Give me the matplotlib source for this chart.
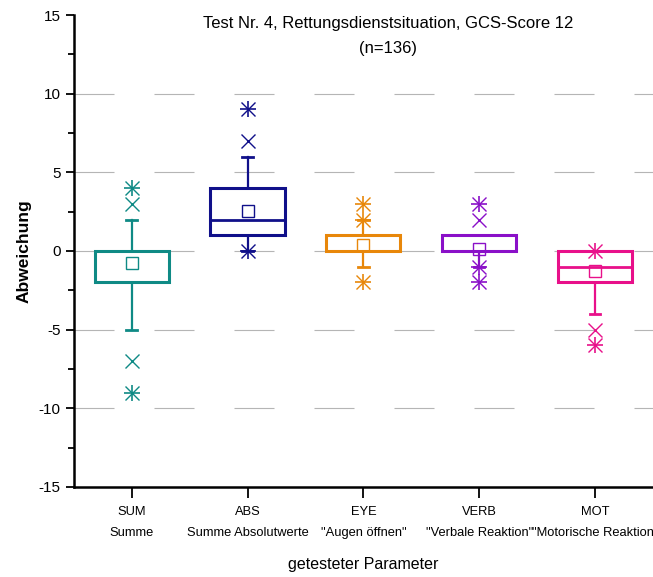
import matplotlib
matplotlib.use("Agg")
import matplotlib.pyplot as plt
from matplotlib.ticker import MultipleLocator

plt.rcParams['font.family'] = ['Liberation Sans Narrow', 'Liberation Sans', 'DejaVu Sans']
plt.rcParams['axes.unicode_minus'] = False

# ---- data ----
categories = ["SUM", "ABS", "EYE", "VERB", "MOT"]
sublabels = ["Summe", "Summe Absolutwerte", "\"Augen öffnen\"", "\"Verbale Reaktion\"", "\"Motorische Reaktion\""]
q1 = [-2, 1, 0, 0, -2]
q3 = [0, 4, 1, 1, 0]
median = [0, 2, 0, 0, -1]
mean = [-0.75, 2.55, 0.35, 0.15, -1.25]
whisker_low = [-5, 0, -1, -1, -4]
whisker_high = [2, 6, 2, 1, 0]
cross_points = [[3, -7], [7], [], [2], [-5]]
star_points = [[4, -9], [9, 0], [3, 2, -2], [3, -1, -2], [0, -6]]
colors = ["#0f8a85", "#10108a", "#e8870a", "#8a10c8", "#e8108a"]

title = "Test Nr. 4, Rettungsdienstsituation, GCS-Score 12\n(n=136)"

fig = plt.figure(figsize=(6.53, 5.77), dpi=100)
ax = fig.add_axes([0.113, 0.156, 0.887, 0.818])

pos = list(range(1, len(categories) + 1))
ax.set_xlim(0.5, 5.5)
ax.set_ylim(-15, 15)

# segmented grid lines
for gy in [10, 5, 0, -5, -10]:
    ax.axhline(gy, color="#b5b5b5", lw=0.8, ls=(0, (36, 36)), zorder=0)

bw = 0.64
cap = 0.045
for i, p in enumerate(pos):
    c = colors[i]
    # whiskers
    ax.plot([p, p], [q3[i], whisker_high[i]], color=c, lw=1.6, zorder=2)
    ax.plot([p, p], [q1[i], whisker_low[i]], color=c, lw=1.6, zorder=2)
    if whisker_high[i] != q3[i]:
        ax.plot([p - cap, p + cap], [whisker_high[i]] * 2, color=c, lw=2, zorder=2)
    if whisker_low[i] != q1[i]:
        ax.plot([p - cap, p + cap], [whisker_low[i]] * 2, color=c, lw=2, zorder=2)
    # box
    ax.add_patch(plt.Rectangle((p - bw / 2, q1[i]), bw, q3[i] - q1[i],
                               facecolor="white", edgecolor=c, lw=2.2, zorder=3))
    ax.plot([p - bw / 2, p + bw / 2], [median[i]] * 2, color=c, lw=2, zorder=4)
    # mean
    ax.plot([p], [mean[i]], marker="s", ms=8, mfc="none", mec=c, mew=1.0, zorder=5)
    # percentiles and extremes
    for v in cross_points[i]:
        ax.plot([p], [v], marker="x", ms=10, mec=c, mew=1.0, zorder=5)
    for v in star_points[i]:
        ax.plot([p], [v], marker="x", ms=10, mec=c, mew=1.0, zorder=5)
        ax.plot([p], [v], marker="+", ms=12, mec=c, mew=1.2, zorder=5)

ax.set_xticks(pos)
ax.set_xticklabels([f"{a}\n{b}" for a, b in zip(categories, sublabels)],
                   fontsize=9.3, linespacing=1.95)
ax.yaxis.set_major_locator(MultipleLocator(5))
ax.yaxis.set_minor_locator(MultipleLocator(2.5))
ax.tick_params(axis="y", which="major", length=6, width=1.3, labelsize=11, direction="out")
ax.tick_params(axis="y", which="minor", length=4, width=1.3, direction="out")
ax.tick_params(axis="x", which="major", length=8, width=1.3, direction="out", pad=6)

for s in ["top", "right"]:
    ax.spines[s].set_visible(False)
for s in ["left", "bottom"]:
    ax.spines[s].set_linewidth(1.8)

ax.set_ylabel("Abweichung", fontsize=12.5, fontweight="bold", labelpad=5)
ax.set_xlabel("getesteter Parameter", fontsize=11.5, labelpad=13)

fig.text(0.594, 0.972, title, ha="center", va="top", fontsize=12, linespacing=1.8)

fig.savefig("out.png", dpi=100)
